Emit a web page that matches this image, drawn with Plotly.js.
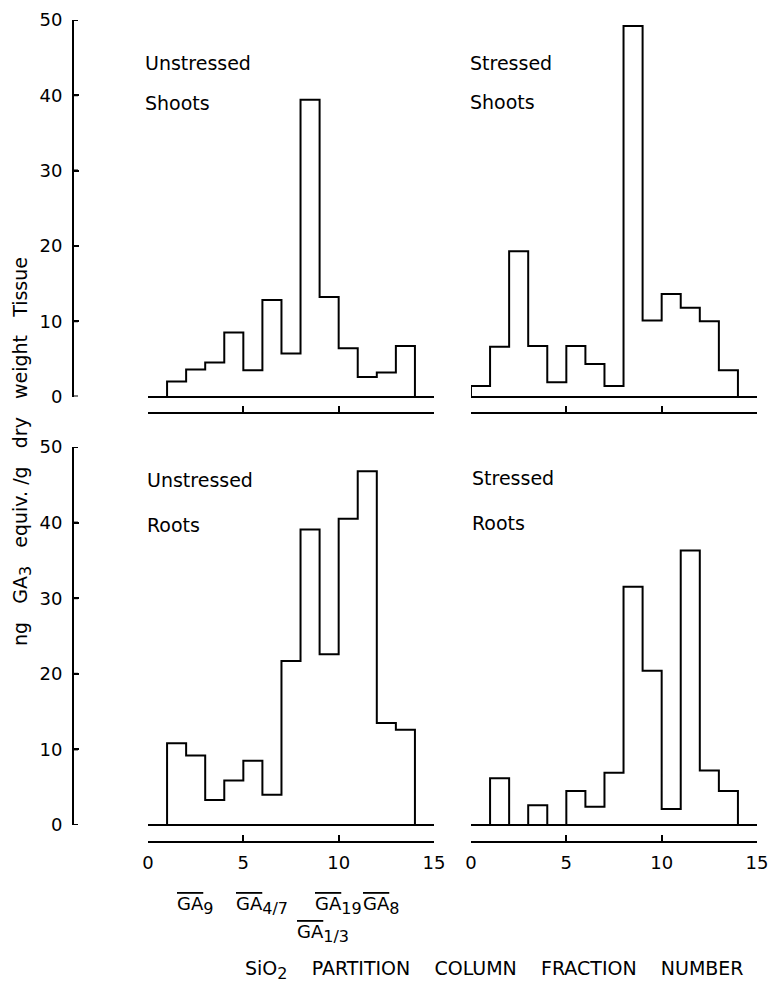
<!DOCTYPE html>
<html>
<head>
<meta charset="utf-8">
<script src="https://cdn.plot.ly/plotly-3.0.1.min.js"></script>
<style>
  html, body { margin: 0; padding: 0; background: #fff; }
  #chart { width: 769px; height: 985px; }
</style>
</head>
<body>
<div id="chart"></div>
<script>
// Fraction numbers (left edge of each fraction bin)
const fractionsFrom1 = [1, 2, 3, 4, 5, 6, 7, 8, 9, 10, 11, 12, 13];
const fractionsFrom0 = [0, 1, 2, 3, 4, 5, 6, 7, 8, 9, 10, 11, 12, 13];

// ng GA3 equiv. / g dry weight tissue, per fraction
const unstressedShoots = [2.0, 3.6, 4.5, 8.5, 3.5, 12.8, 5.7, 39.4, 13.2, 6.4, 2.6, 3.2, 6.7];
const stressedShoots   = [1.4, 6.6, 19.3, 6.7, 1.9, 6.7, 4.3, 1.4, 49.2, 10.1, 13.6, 11.8, 10.0, 3.5];
const unstressedRoots  = [10.8, 9.2, 3.3, 5.9, 8.5, 4.0, 21.7, 39.1, 22.6, 40.5, 46.8, 13.5, 12.6];
const stressedRoots    = [6.2, 0, 2.6, 0, 4.5, 2.4, 6.9, 31.5, 20.4, 2.1, 36.3, 7.2, 4.5];

const xTicks = [0, 5, 10, 15];
const yTicks = [0, 10, 20, 30, 40, 50];

const panelTitles = [
  ["Unstressed", "Shoots"],
  ["Stressed", "Shoots"],
  ["Unstressed", "Roots"],
  ["Stressed", "Roots"]
];
const gaLabels = ["9", "4/7", "19", "8", "1/3"];

const W = 769, H = 985;
const px = v => v / W;
const py = v => (H - v) / H;
const FONT = "DejaVu Sans, Liberation Sans, sans-serif";
const Y_SPINE_X = 73;

// Build a step outline for a histogram: starts at 0 on the first edge, ends at 0 on the last
function stepTrace(fr, vals, xa, ya) {
  const xs = [fr[0]];
  const ys = [0];
  for (let i = 0; i < vals.length; i++) { xs.push(fr[i]); ys.push(vals[i]); }
  xs.push(fr[fr.length - 1] + 1); ys.push(0);
  return {
    type: "scatter", mode: "lines", x: xs, y: ys,
    xaxis: xa, yaxis: ya,
    line: { shape: "hv", color: "#000", width: 2 },
    hoverinfo: "skip", showlegend: false
  };
}

const data = [
  stepTrace(fractionsFrom1, unstressedShoots, "x", "y"),
  stepTrace(fractionsFrom0, stressedShoots, "x2", "y"),
  stepTrace(fractionsFrom1, unstressedRoots, "x3", "y2"),
  stepTrace(fractionsFrom1, stressedRoots, "x4", "y2")
];

const leftDom = [px(148), px(434)];
const rightDom = [px(471), px(757)];
const topDom = [py(396.5), py(20)];
const botDom = [py(825), py(447)];

function xAxis(dom, pos, labels) {
  return {
    domain: dom, range: [0, 15], anchor: "free", position: pos,
    showline: true, linecolor: "#000", linewidth: 2,
    ticks: "inside", ticklen: 6, tickwidth: 2, tickcolor: "#000",
    tickmode: "array", tickvals: xTicks,
    showticklabels: labels, ticklabelstandoff: 4,
    tickfont: { family: FONT, size: 18, color: "#000" },
    showgrid: false, zeroline: false, fixedrange: true
  };
}
function yAxis(dom) {
  return {
    domain: dom, range: [0, 50], anchor: "free", position: px(Y_SPINE_X), side: "left",
    showline: true, linecolor: "#000", linewidth: 2,
    ticks: "inside", ticklen: 5, tickwidth: 2, tickcolor: "#000",
    tickmode: "array", tickvals: yTicks, showticklabels: true,
    ticklabelstandoff: 6,
    tickfont: { family: FONT, size: 18, color: "#000" },
    showgrid: false, zeroline: true, zerolinecolor: "#000", zerolinewidth: 2,
    fixedrange: true
  };
}

// y-axis spines and tick marks (drawn along each y axis from its tick values)
const shapes = [];
["y", "y2"].forEach(ya => {
  shapes.push({ type: "line", xref: "paper", yref: ya,
    x0: px(Y_SPINE_X), x1: px(Y_SPINE_X), y0: yTicks[0], y1: yTicks[yTicks.length - 1],
    line: { color: "#000", width: 2 } });
  yTicks.forEach(t => shapes.push({ type: "line", xref: "paper", yref: ya,
    x0: px(Y_SPINE_X), x1: px(Y_SPINE_X + 5), y0: t, y1: t,
    line: { color: "#000", width: 2 } }));
});

const annotations = [];
function addText(text, x, y, opts) {
  annotations.push(Object.assign({
    text: text, x: px(x), y: py(y), xref: "paper", yref: "paper",
    showarrow: false, xanchor: "left", yanchor: "middle",
    font: { family: FONT, size: 19, color: "#000" }
  }, opts || {}));
}
// panel labels
const titlePos = [[143, 63, 103], [468, 63, 102], [145, 480, 525], [470, 478, 523]];
panelTitles.forEach((t, i) => {
  addText(t[0], titlePos[i][0], titlePos[i][1]);
  addText(t[1], titlePos[i][0], titlePos[i][2]);
});

// GA marker labels under the lower-left axis
const ol = s => '<span style="text-decoration:overline">' + s + '</span>';
const sub = s => '<sub><span style="font-size:16px">' + s + '</span></sub>';
const gaPos = [[195, 905], [262, 905], [338, 905], [381, 905], [323, 933]];
gaLabels.forEach((g, i) => {
  addText(ol("GA") + sub(g), gaPos[i][0], gaPos[i][1],
    { xanchor: "center", font: { family: FONT, size: 18, color: "#000" } });
});

const sp = n => "\u00A0".repeat(n);
// y-axis title
addText("ng" + sp(3) + "GA" + sub("3") + sp(3) + "equiv." + sp(1) + "/g" + sp(3) + "dry" + sp(3) + "weight" + sp(3) + "Tissue",
  22, 452, { xanchor: "center", textangle: -90, font: { family: FONT, size: 19, color: "#000" } });
// x-axis title
addText("SiO" + sub("2") + sp(4) + "PARTITION" + sp(4) + "COLUMN" + sp(4) + "FRACTION" + sp(4) + "NUMBER",
  495, 970, { xanchor: "center", font: { family: FONT, size: 19, color: "#000" } });

const layout = {
  width: W, height: H,
  margin: { l: 0, r: 0, t: 0, b: 0 },
  paper_bgcolor: "#fff", plot_bgcolor: "rgba(0,0,0,0)",
  showlegend: false,
  xaxis: xAxis(leftDom, py(413), false),
  xaxis2: xAxis(rightDom, py(413), false),
  xaxis3: xAxis(leftDom, py(842), true),
  xaxis4: xAxis(rightDom, py(842), true),
  yaxis: yAxis(topDom),
  yaxis2: yAxis(botDom),
  shapes: shapes,
  annotations: annotations
};

Plotly.newPlot("chart", data, layout, { staticPlot: true, displayModeBar: false });
</script>
</body>
</html>
